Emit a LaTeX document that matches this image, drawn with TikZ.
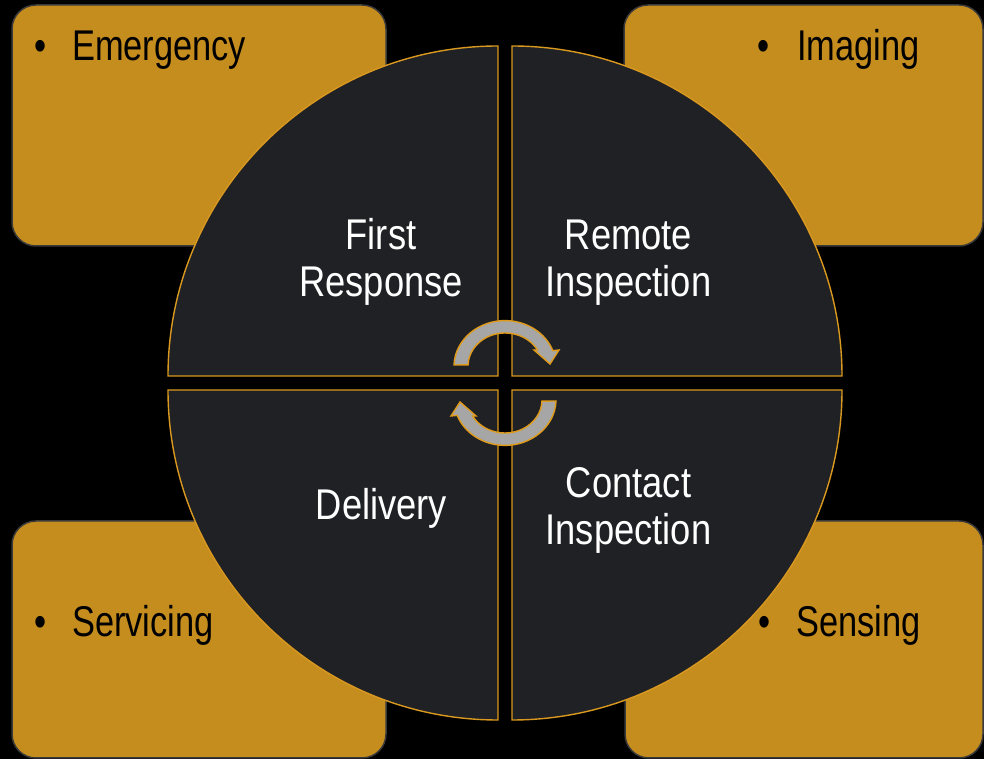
\documentclass[tikz,border=0pt]{standalone}
\usepackage{fontspec}
\newfontfamily\circfont[FakeStretch=0.845]{Liberation Sans}
\newfontfamily\boxfont[FakeStretch=0.80]{Liberation Sans}

\definecolor{boxgold}{HTML}{C58C1E}
\definecolor{boxedge}{HTML}{3A3A3A}
\definecolor{quadfill}{HTML}{202124}
\definecolor{quadedge}{HTML}{D9981F}
\definecolor{arrowfill}{HTML}{A6A6A6}
\definecolor{arrowedge}{HTML}{E09A1A}

\tikzset{
  goldbox/.style={draw=boxedge, line width=1.5pt, fill=boxgold,
    rounded corners=24pt, inner sep=0pt},
  quadrant/.style={draw=quadedge, line width=1.4pt, fill=quadfill},
  boxlabel/.style={anchor=base west, inner sep=0pt, text=black,
    font=\boxfont\fontsize{43pt}{47pt}\selectfont},
  % base anchor of a multi-line label sits on its last line
  quadlabel/.style={anchor=base, inner sep=0pt, text=white, align=center,
    font=\circfont\fontsize{43pt}{47pt}\selectfont},
  turnarrow/.pic={
    \path[draw=arrowedge, line width=1.4pt, fill=arrowfill, line join=miter]
      (-51,1) arc[start angle=178, end angle=20.3, x radius=51pt, y radius=46pt]
      -- (54,16) -- (45,2) -- (29,16) -- (32.4,16)
      arc[start angle=29, end angle=178, x radius=37pt, y radius=33pt]
      -- cycle;
  }
}

\begin{document}
\begin{tikzpicture}[x=1pt, y=1pt]
  % page and background
  \useasboundingbox (0,0) rectangle (984,759);
  \fill[black] (0,0) rectangle (984,759);

  % corner boxes
  \node[goldbox, minimum width=374pt, minimum height=241pt] (emgbox) at (199,633.5) {};
  \node[goldbox, minimum width=359pt, minimum height=241pt] (imgbox) at (803.5,633.5) {};
  \node[goldbox, minimum width=374pt, minimum height=237pt] (srvbox) at (199,119.5) {};
  \node[goldbox, minimum width=358pt, minimum height=237pt] (snsbox) at (804,119.5) {};

  % the four quadrants of the cycle
  \path[quadrant] (498,383) -- (168,383) arc[start angle=180, end angle=90, radius=330pt] -- cycle;
  \path[quadrant] (512,383) -- (512,713) arc[start angle=90, end angle=0, radius=330pt] -- cycle;
  \path[quadrant] (498,369) -- (498,39) arc[start angle=270, end angle=180, radius=330pt] -- cycle;
  \path[quadrant] (512,369) -- (842,369) arc[start angle=0, end angle=-90, radius=330pt] -- cycle;

  % turning arrows in the middle
  \pic at (505,393) {turnarrow};
  \pic[rotate=180] at (505,359) {turnarrow};

  % quadrant labels
  \node[quadlabel] (first)   at (381,462)   {First\\Response};
  \node[quadlabel] (remote)  at (628.5,462) {Remote\\Inspection};
  \node[quadlabel] (deliv)   at (381.5,239) {Delivery};
  \node[quadlabel] (contact) at (628.5,214) {Contact\\Inspection};

  % box labels
  \node[boxlabel] (emg) at (34,698)  {•\hskip26pt Emergency};
  \node[boxlabel] (img) at (757,698) {•\hskip28pt Imaging};
  \node[boxlabel] (srv) at (34,122)  {•\hskip26pt Servicing};
  \node[boxlabel] (sns) at (758,122) {•\hskip26pt Sensing};
\end{tikzpicture}
\end{document}
